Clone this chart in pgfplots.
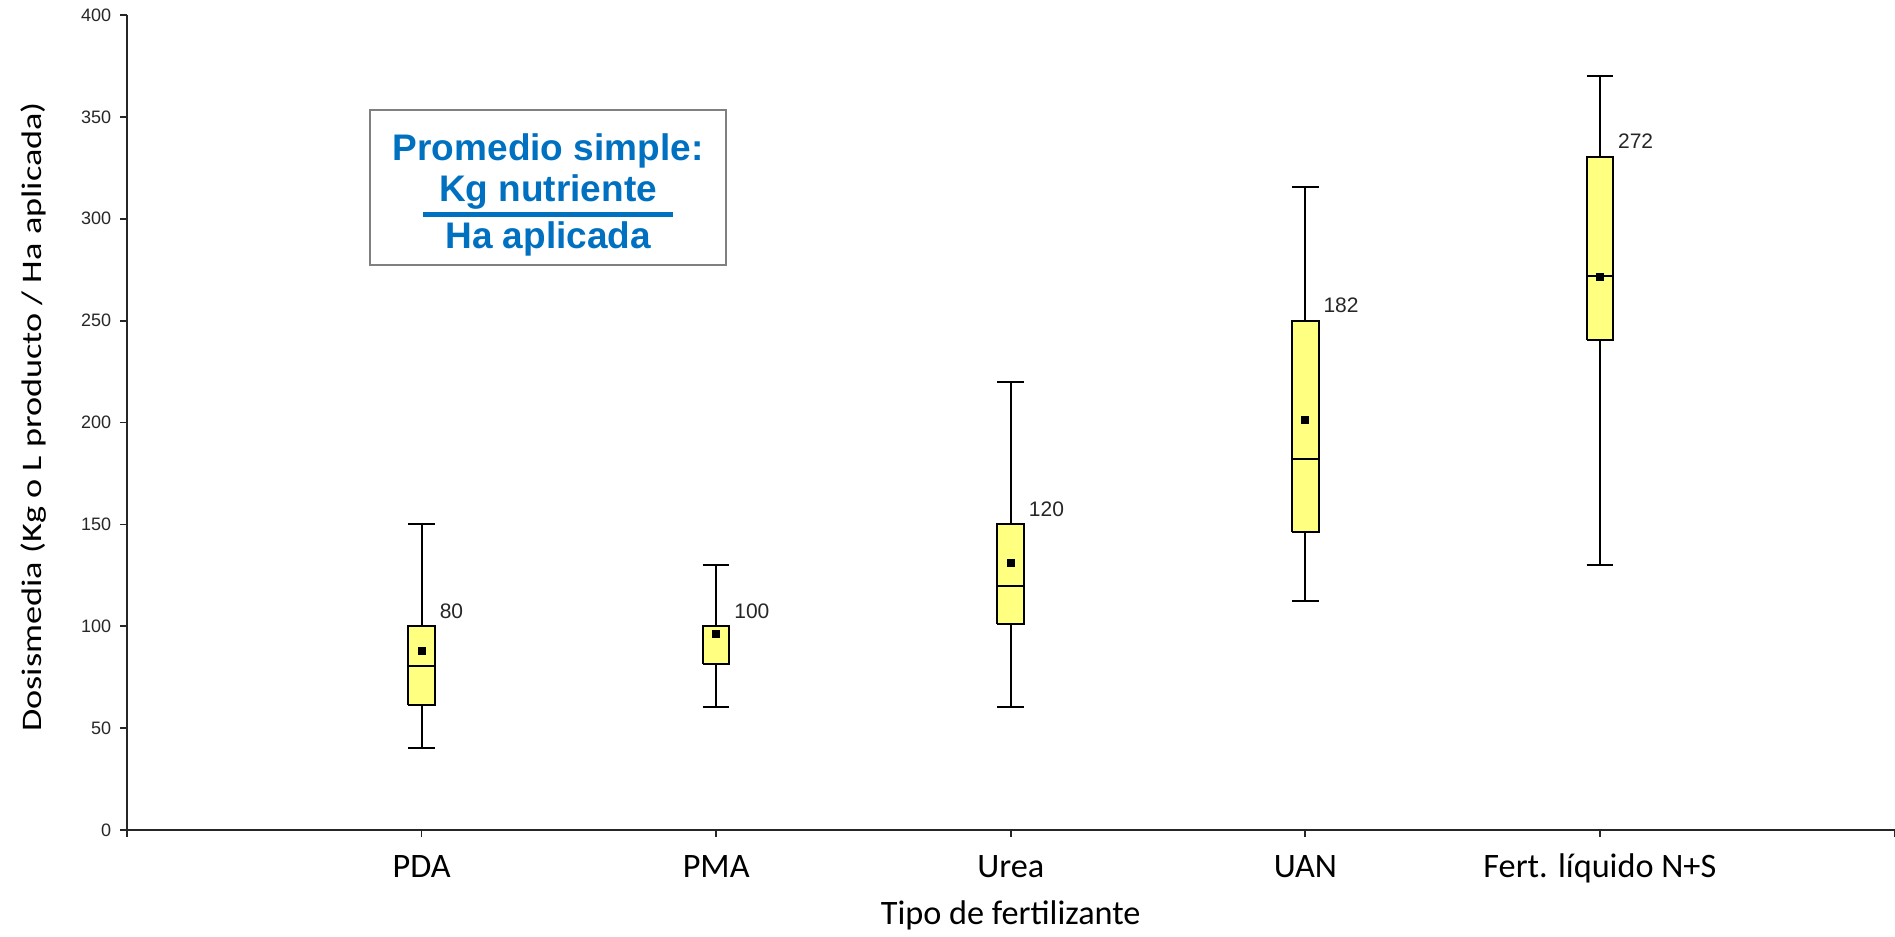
\documentclass[border=0pt]{standalone}
\usepackage{fontspec}
\setmainfont{Carlito}
\newfontfamily\arial{Liberation Sans}
\usepackage{graphicx}
\usepackage{pgfplots}
\pgfplotsset{compat=1.18}

\definecolor{boxyellow}{RGB}{255,255,128}
\definecolor{txtblue}{RGB}{0,112,192}
\definecolor{framegray}{RGB}{128,128,128}

\pgfplotsset{
  bx/.style={draw=black, fill=boxyellow, line width=0.8pt, solid, mark=none, line join=miter},
  wh/.style={draw=black, line width=0.8pt, solid, mark=none, unbounded coords=jump},
}
\tikzset{
  lbl/.style={anchor=base west, inner sep=0pt, font=\arial\fontsize{8.4}{9}\selectfont, text=black!85},
}

\begin{document}
\begin{tikzpicture}
\begin{axis}[
  at={(0,0)}, anchor=south west,
  width=707pt, height=326pt, scale only axis,
  xmin=0, xmax=6, ymin=0, ymax=400,
  axis x line*=bottom, axis y line*=left,
  axis line style={-, line width=0.8pt, black!85},
  xtick={0,1,2,3,4,5,6},
  xticklabels={,PDA,PMA,Urea,UAN,Fert. líquido N+S,},
  ytick={0,50,...,400},
  tick align=outside, major tick length=2.8pt,
  tick style={line width=0.7pt, black!85},
  xticklabel style={font=\fontsize{13.7}{15}\selectfont, anchor=base, yshift=-16.3pt},
  yticklabel style={font=\arial\fontsize{7.2}{8}\selectfont, text=black!85},
  /pgf/number format/assume math mode=true,
  xlabel={Tipo de fertilizante},
  xlabel style={font=\fontsize{13.7}{15}\selectfont, at={(axis description cs:0.5,0)}, anchor=base, yshift=-37.8pt},
  ylabel={\scalebox{1}[0.78]{Dosismedia (Kg o L producto / Ha aplicada)}},
  ylabel style={font=\fontsize{14.5}{16}\selectfont, at={(axis description cs:-0.0526,0.507)}, anchor=center},
  clip=false,
]

% bigotes (bigote inf, Q1, Q3, bigote sup)
\addplot[wh] coordinates {(0.955,40)(1.045,40) (1,nan) (1,40)(1,61.5) (1,nan) (1,100)(1,150) (1,nan) (0.955,150)(1.045,150)};
\addplot[wh] coordinates {(1.955,60.5)(2.045,60.5) (2,nan) (2,60.5)(2,81.5) (2,nan) (2,100)(2,130) (2,nan) (1.955,130)(2.045,130)};
\addplot[wh] coordinates {(2.955,60.5)(3.045,60.5) (3,nan) (3,60.5)(3,101) (3,nan) (3,150)(3,220) (3,nan) (2.955,220)(3.045,220)};
\addplot[wh] coordinates {(3.955,112.5)(4.045,112.5) (4,nan) (4,112.5)(4,146.4) (4,nan) (4,250)(4,315.4) (4,nan) (3.955,315.4)(4.045,315.4)};
\addplot[wh] coordinates {(4.955,130.3)(5.045,130.3) (5,nan) (5,130.3)(5,240.7) (5,nan) (5,330.5)(5,370) (5,nan) (4.955,370)(5.045,370)};

% cajas Q1-Q3
\addplot[bx] coordinates {(0.955,61.5)(1.045,61.5)(1.045,100)(0.955,100)(0.955,61.5)};
\addplot[bx] coordinates {(1.955,81.5)(2.045,81.5)(2.045,100)(1.955,100)(1.955,81.5)};
\addplot[bx] coordinates {(2.955,101)(3.045,101)(3.045,150)(2.955,150)(2.955,101)};
\addplot[bx] coordinates {(3.955,146.4)(4.045,146.4)(4.045,250)(3.955,250)(3.955,146.4)};
\addplot[bx] coordinates {(4.955,240.7)(5.045,240.7)(5.045,330.5)(4.955,330.5)(4.955,240.7)};

% medianas
\addplot[wh] coordinates {(0.955,80.5)(1.045,80.5) (1,nan) (1.955,100)(2.045,100) (2,nan)
  (2.955,120)(3.045,120) (3,nan) (3.955,182.3)(4.045,182.3) (4,nan) (4.955,271.8)(5.045,271.8)};

% promedios
\addplot[only marks, mark=square*, mark size=1.4pt, black]
  coordinates {(1,87.7) (2,96) (3,131) (4,201.4) (5,271.5)};

\node[lbl] at (axis cs:1.06,104) {80};
\node[lbl] at (axis cs:2.06,104) {100};
\node[lbl] at (axis cs:3.06,154) {120};
\node[lbl] at (axis cs:4.06,254) {182};
\node[lbl] at (axis cs:5.06,334.5) {272};

\node[draw=framegray, line width=0.6pt, minimum width=142.4pt, minimum height=61.9pt,
  inner sep=0pt] (tb) at (axis cs:1.4296,315.3) {};
\begin{scope}[every node/.style={anchor=base, text=txtblue, inner sep=0pt,
    font=\arial\bfseries\fontsize{14.8}{17}\selectfont}]
  \node at ([yshift=10.9pt]tb.center) {Promedio simple:};
  \node at ([yshift=-5.6pt]tb.center) {Kg nutriente};
  \node at ([yshift=-24.5pt]tb.center) {Ha aplicada};
\end{scope}
\draw[txtblue, line width=2pt] ([xshift=-49.9pt, yshift=-10.8pt]tb.center)
  -- ([xshift=49.9pt, yshift=-10.8pt]tb.center);
\end{axis}
\pgfresetboundingbox
\path (-50.8pt,-42.8pt) rectangle (707.2pt,332pt);
\end{tikzpicture}
\end{document}
